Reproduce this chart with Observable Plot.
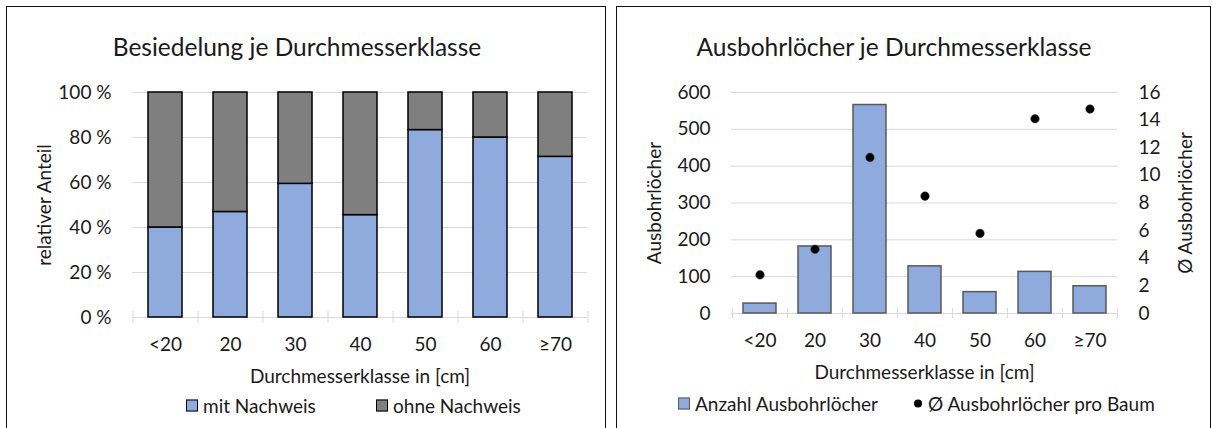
<!DOCTYPE html>
<html>
<head>
<meta charset="utf-8">
<script src="https://cdn.jsdelivr.net/npm/d3@7"></script>
<script src="https://cdn.jsdelivr.net/npm/@observablehq/plot@0.6"></script>
<style>
  body { margin: 0; background: #fff; font-family: Lato, "Open Sans", sans-serif; }
  #wrap { position: relative; width: 1212px; height: 428px; overflow: hidden; background: #fff; }
  .panel { position: absolute; border: 1.5px solid #111; box-sizing: border-box; }
  .title { position: absolute; font-size: 24.5px; color: #1a1a1a; white-space: nowrap; transform: translate(-50%, -50%); }
  .legend { position: absolute; font-size: 19px; color: #1a1a1a; white-space: nowrap; display: flex; align-items: center; transform: translateY(-50%); }
  .sw { display: inline-block; width: 12px; height: 12px; margin-right: 5px; box-sizing: border-box; }
  .dotsw { display: inline-block; width: 8px; height: 8px; border-radius: 50%; background: #000; margin-right: 6px; }
  .chart { position: absolute; top: 0; }
  .chart svg { overflow: visible; }
</style>
</head>
<body>
<div id="wrap">
  <div class="panel" style="left:6px;top:6px;width:600px;height:440px"></div>
  <div class="panel" style="left:616px;top:6px;width:595px;height:440px"></div>
  <div id="left" class="chart" style="left:0px"></div>
  <div id="right" class="chart" style="left:606px"></div>
  <div class="title" style="left:297px;top:46px">Besiedelung je Durchmesserklasse</div>
  <div class="title" style="left:894px;top:46px">Ausbohrlöcher je Durchmesserklasse</div>
  <div class="legend" style="left:186px;top:405px"><span class="sw" style="background:#8FAADC;border:1.5px solid #000"></span>mit Nachweis</div>
  <div class="legend" style="left:376px;top:405px"><span class="sw" style="background:#7F7F7F;border:1.5px solid #000"></span>ohne Nachweis</div>
  <div class="legend" style="left:678px;top:403px"><span class="sw" style="background:#8FAADC;border:1.5px solid #595959"></span>Anzahl Ausbohrlöcher</div>
  <div class="legend" style="left:914px;top:403px"><span class="dotsw"></span>Ø Ausbohrlöcher pro Baum</div>
</div>
<script>
// ---- data ----
const classes = ["<20", "20", "30", "40", "50", "60", "≥70"];
const mitNachweis = [40, 46.9, 59.4, 45.5, 83.3, 80, 71.4];      // %
const ohneNachweis = [60, 53.1, 40.6, 54.5, 16.7, 20, 28.6];     // %
const anzahlAusbohrloecher = [27, 182, 566, 128, 58, 113, 74];
const avgProBaum = [2.8, 4.65, 11.3, 8.5, 5.8, 14.1, 14.8];
const pctTicks = [0, 20, 40, 60, 80, 100];
const countTicks = [0, 100, 200, 300, 400, 500, 600];
const avgTicks = [0, 2, 4, 6, 8, 10, 12, 14, 16];

const BLUE = "#8FAADC", GRAY = "#7F7F7F", GRID = "#D9D9D9", TXT = "#1a1a1a";
const FONT = "Lato, 'Open Sans', sans-serif";

// ---- left chart ----
{
  const W = 606, H = 392, ml = 132, mr = 19, mt = 92, mb = H - 317;
  const step = (W - ml - mr) / classes.length;
  const stacked = [];
  classes.forEach((c, i) => {
    stacked.push({klasse: c, serie: "mit Nachweis", wert: mitNachweis[i]});
    stacked.push({klasse: c, serie: "ohne Nachweis", wert: ohneNachweis[i]});
  });
  const chart = Plot.plot({
    width: W, height: H,
    marginLeft: ml, marginRight: mr, marginTop: mt, marginBottom: mb,
    style: {fontFamily: FONT, fontSize: "18.5px", color: TXT, background: "transparent"},
    x: {domain: classes, paddingInner: 0.48, paddingOuter: 0.24},
    y: {domain: [0, 100]},
    color: {domain: ["mit Nachweis", "ohne Nachweis"], range: [BLUE, GRAY]},
    marks: [
      Plot.ruleY(pctTicks, {stroke: GRID, strokeWidth: 1}),
      Plot.ruleX(classes, {x: d => d, y1: 0, y2: 0, insetTop: -6, insetBottom: -6, dx: -step / 2, stroke: GRID}),
      Plot.ruleX([classes[classes.length - 1]], {x: d => d, y1: 0, y2: 0, insetTop: -6, insetBottom: -6, dx: step / 2, stroke: GRID}),
      Plot.barY(stacked, {x: "klasse", y: "wert", fill: "serie", stroke: "#000", strokeWidth: 1.5, order: ["mit Nachweis", "ohne Nachweis"]}),
      Plot.axisY({ticks: pctTicks, tickSize: 0, tickPadding: 21, tickFormat: d => d + " %", label: "relativer Anteil", labelAnchor: "center", labelArrow: "none", labelOffset: 95, fontSize: 19}),
      Plot.axisX({tickSize: 0, tickPadding: 20, label: "Durchmesserklasse in [cm]", labelAnchor: "center", labelArrow: "none", labelOffset: 65, fontSize: 19})
    ]
  });
  document.getElementById("left").append(chart);
}

// ---- right chart ----
{
  const W = 606, H = 392, ml = 125, mr = 95, mt = 92, mb = H - 313;
  const step = (W - ml - mr) / classes.length;
  const k = 600 / 16;
  const rows = classes.map((c, i) => ({klasse: c, anzahl: anzahlAusbohrloecher[i], avg: avgProBaum[i]}));
  const chart = Plot.plot({
    width: W, height: H,
    marginLeft: ml, marginRight: mr, marginTop: mt, marginBottom: mb,
    style: {fontFamily: FONT, fontSize: "18.5px", color: TXT, background: "transparent"},
    x: {domain: classes, paddingInner: 0.40, paddingOuter: 0.20},
    y: {domain: [0, 600]},
    marks: [
      Plot.ruleY(countTicks, {stroke: GRID, strokeWidth: 1}),
      Plot.ruleX(classes, {x: d => d, y1: 0, y2: 0, insetTop: -5, insetBottom: -5, dx: -step / 2, stroke: GRID}),
      Plot.ruleX([classes[classes.length - 1]], {x: d => d, y1: 0, y2: 0, insetTop: -5, insetBottom: -5, dx: step / 2, stroke: GRID}),
      Plot.barY(rows, {x: "klasse", y: "anzahl", fill: BLUE, stroke: "#595959", strokeWidth: 1.5}),
      Plot.dot(rows, {x: "klasse", y: d => d.avg * k, r: 4.3, fill: "#000", stroke: "#444", strokeWidth: 0.5}),
      Plot.axisY({ticks: countTicks, tickSize: 0, tickPadding: 21, label: "Ausbohrlöcher", labelAnchor: "center", labelArrow: "none", labelOffset: 84, fontSize: 19}),
      Plot.axisY({anchor: "right", ticks: avgTicks.map(v => v * k), tickFormat: d => String(Math.round(d / k)), tickSize: 0, tickPadding: 21, label: "Ø Ausbohrlöcher", labelAnchor: "center", labelArrow: "none", labelOffset: 74, fontSize: 19}),
      Plot.axisX({tickSize: 0, tickPadding: 20, label: "Durchmesserklasse in [cm]", labelAnchor: "center", labelArrow: "none", labelOffset: 65, fontSize: 19})
    ]
  });
  document.getElementById("right").append(chart);
}
</script>
</body>
</html>
